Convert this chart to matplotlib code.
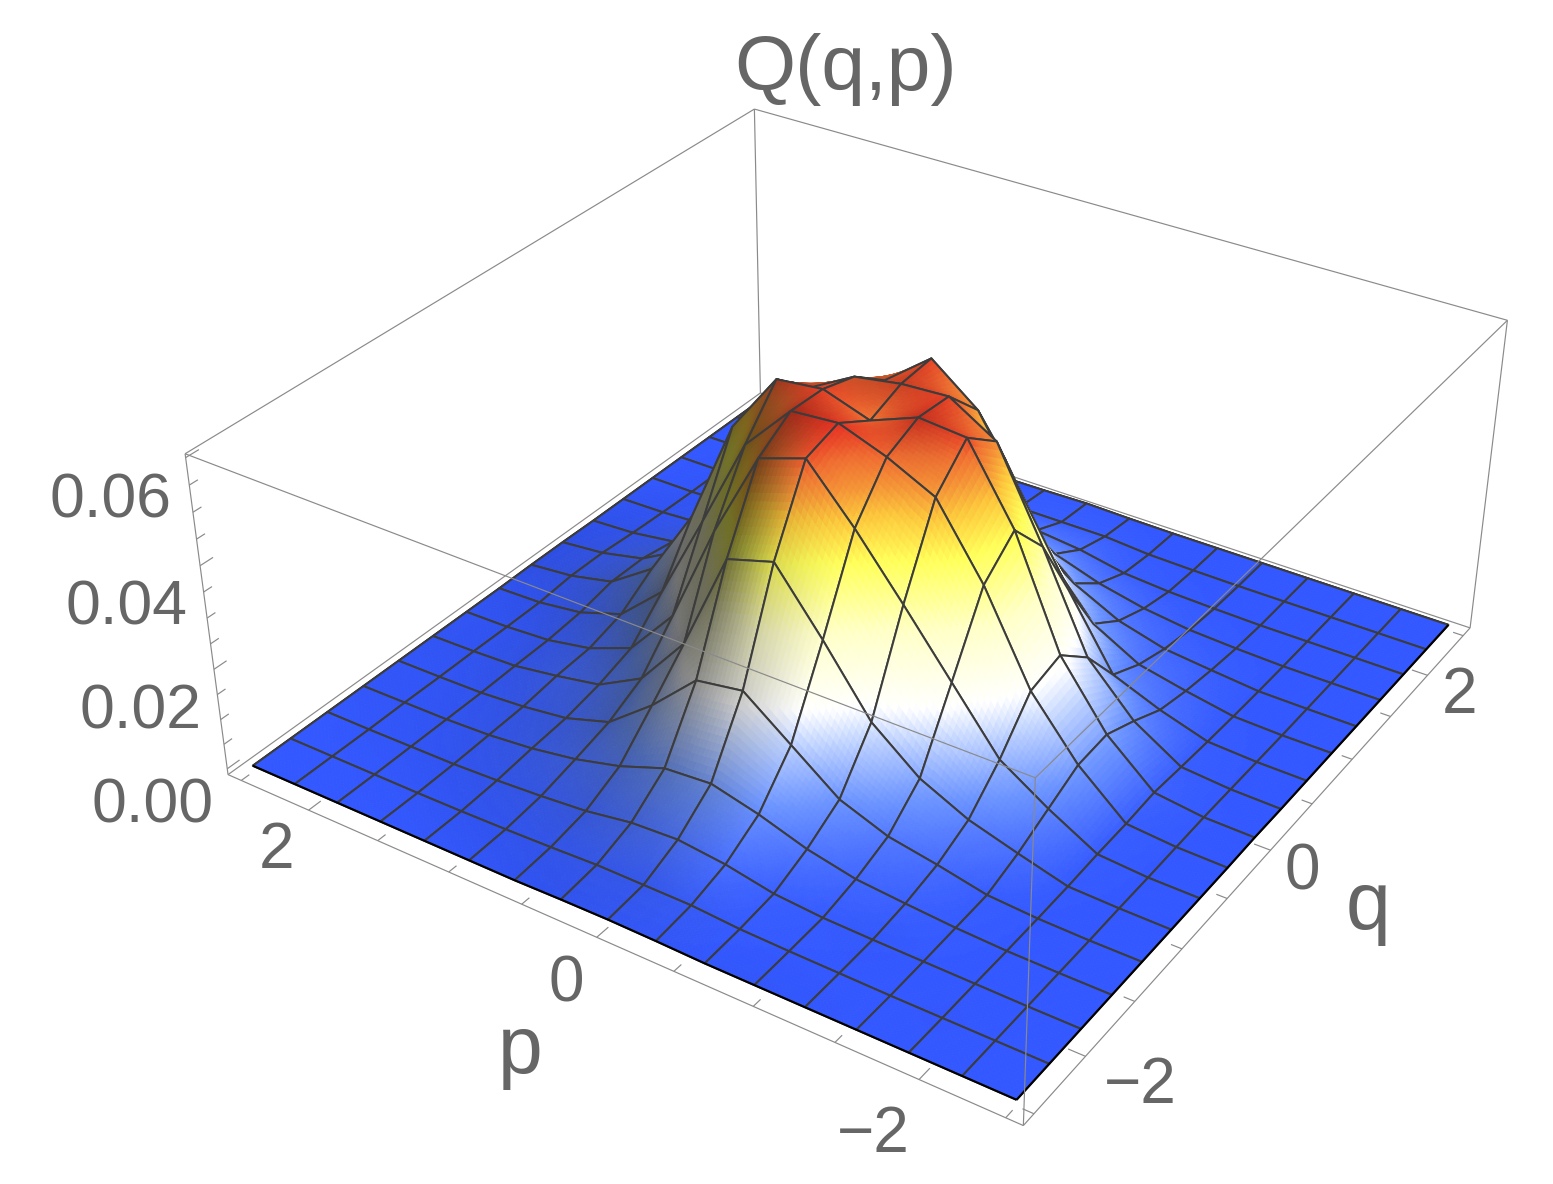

import numpy as np
import matplotlib
matplotlib.use('Agg')
import matplotlib.pyplot as plt
from matplotlib.colors import LinearSegmentedColormap
from mpl_toolkits.mplot3d.art3d import Poly3DCollection, Line3DCollection

W, H = 1553, 1184
plt.rcParams['font.family'] = ['Liberation Sans', 'DejaVu Sans']

# Husimi function on the phase-space grid, in units of 1e-3 (rows: q, columns: p)
q_nodes = [-2.5, -2.1875, -1.875, -1.5625, -1.25, -0.9375, -0.625, -0.3125, 0.0,
           0.3125, 0.625, 0.9375, 1.25, 1.5625, 1.875, 2.1875, 2.5]
p_nodes = [-2.5, -2.1875, -1.875, -1.5625, -1.25, -0.9375, -0.625, -0.3125, 0.0,
           0.3125, 0.625, 0.9375, 1.25, 1.5625, 1.875, 2.1875, 2.5]
Q_values = [
 [0, 0, 0, 0, 0, 0, 0, .2, .3, .2, 0, 0, 0, 0, 0, 0, 0],
 [0, 0, 0, 0, .1, .2, .4, 1.0, 1.0, 1.0, .6, .3, .1, 0, 0, 0, 0],
 [0, 0, .1, .2, .3, .5, 1.2, 3.0, 4.0, 3.5, 2.0, 1.2, .6, .2, .1, 0, 0],
 [0, 0, .1, .5, 1.2, 2.0, 4.0, 7.0, 9.3, 8.6, 5.3, 3.0, 1.5, .6, .2, .1, 0],
 [0, 0, .2, .8, 2.8, 4.5, 8.0, 15., 22., 20.5, 12., 5.0, 2.2, 1.0, .3, .1, 0],
 [0, .1, .4, 3.0, 5.8, 10.2, 17.6, 30., 41.5, 38.8, 19., 8.5, 3.7, 2.0, .6, .2, 0],
 [0, .1, .8, 6.0, 12., 23.5, 35., 46.1, 56., 53., 36., 16., 6.0, 2.5, .8, .2, 0],
 [0, .2, 1.0, 9.0, 20., 37., 50.3, 54.7, 58., 57.3, 48., 30., 12.5, 4.5, 1.5, .3, 0],
 [.1, .3, 1.5, 9.5, 21.7, 42.5, 56.7, 57.5, 54., 57., 56., 44., 23., 9.0, 3.0, 1.0, .1],
 [0, .2, 1.0, 6.7, 16., 34.5, 51.5, 57., 56.5, 55., 50., 37., 18.5, 8.0, 3.0, 1.0, .1],
 [0, .1, .6, 3.5, 7.2, 21., 36., 50., 57., 50., 41., 26., 12., 5.0, 1.8, .5, 0],
 [0, 0, .3, 2.0, 4.0, 9.0, 19.5, 36., 42., 38., 23., 12., 5.0, 2.0, .8, .2, 0],
 [0, 0, .1, 1.0, 2.0, 4.5, 9.0, 17., 22., 20., 12., 5.5, 2.5, 1.0, .3, 0, 0],
 [0, 0, 0, .3, .8, 2.0, 4.0, 7.0, 9.5, 8.5, 5.0, 2.5, 1.2, .4, .1, 0, 0],
 [0, 0, 0, 0, .2, .5, 1.2, 3.0, 4.0, 3.5, 2.0, 1.0, .4, .1, 0, 0, 0],
 [0, 0, 0, 0, 0, .1, .3, 1.0, 1.0, 1.0, .5, .2, .1, 0, 0, 0, 0],
 [0, 0, 0, 0, 0, 0, 0, .1, .3, .1, 0, 0, 0, 0, 0, 0, 0],
]
z_ticks = [0.0, 0.005, 0.01, 0.015, 0.02, 0.025, 0.03, 0.035, 0.04, 0.045, 0.05, 0.055, 0.06]
z_major = [0.0, 0.02, 0.04, 0.06]
pq_ticks = [-2.5, -2.0, -1.5, -1.0, -0.5, 0.0, 0.5, 1.0, 1.5, 2.0, 2.5]
pq_major = [-2.0, 0.0, 2.0]

q = np.array(q_nodes)
p = np.array(p_nodes)
Z = np.array(Q_values) * 1e-3
q_lim = p_lim = (-2.6, 2.6)
z_lim = (-0.0012, 0.0607)

fig = plt.figure(figsize=(W / 100, H / 100), dpi=100, facecolor='white')
ax = fig.add_axes([356.65 / W, 123.9 / H, 1000 / W, 1000 / H],
                  projection='3d', computed_zorder=False)
ax.set_xlim(*q_lim)
ax.set_ylim(*p_lim)
ax.set_zlim(*z_lim)
ax.view_init(elev=32.2704, azim=-146.6352)
ax.set_proj_type('persp', focal_length=0.5873)
ax.set_box_aspect((1, 1.00052, 0.40198), zoom=1.31815)
ax.set_axis_off()

# Height colouring: blue floor, white flank, yellow shoulder, red summit
height_cmap = LinearSegmentedColormap.from_list('q_height', [
    (0.0, '#3358FF'), (0.133, '#6E96FF'), (0.25, '#BED2FF'), (0.333, '#FFFFFF'),
    (0.52, '#FFFFC8'), (0.69, '#FFFF5A'), (0.79, '#FDC83C'), (0.85, '#F59637'),
    (0.91, '#F06E32'), (0.967, '#E63223'), (1.0, '#E02820')])

# Slopes turned towards the viewer's left lie in shadow
dz_dq, dz_dp = np.gradient(Z, q, p)
shadow = np.clip((0.35 * dz_dq - dz_dp) / 0.05, 0, 1) ** 0.6
shade = 1 - 0.58 * shadow

SUB = 12
t = np.arange(SUB + 1) / SUB
tc = (np.arange(SUB) + 0.5) / SUB
order = 10


def bilinear(f, i, j, a, b):
    return (f[i, j] * (1 - a) * (1 - b) + f[i + 1, j] * a * (1 - b)
            + f[i, j + 1] * (1 - a) * b + f[i + 1, j + 1] * a * b)


def add_line(segments, **kw):
    coll = Line3DCollection(segments, **kw)
    ax.add_collection3d(coll, autolim=False)
    coll.set_clip_on(False)
    return coll


def box_edge(a, b, zo):
    add_line([[a, b]], colors='#8a8a8a', linewidths=0.85, zorder=zo)


q0, q1 = q_lim
p0, p1 = p_lim
z0, z1 = z_lim
# Rear box edges sit behind the surface
box_edge((q0, p1, z0), (q1, p1, z0), 1)
box_edge((q1, p0, z0), (q1, p1, z0), 1)
box_edge((q1, p1, z0), (q1, p1, z1), 1)
box_edge((q0, p1, z1), (q1, p1, z1), 1)
box_edge((q1, p0, z1), (q1, p1, z1), 1)

# Far boundary of the surface
add_line([[(q[16], p[k], Z[16, k]) for k in range(17)],
          [(q[k], p[16], Z[k, 16]) for k in range(17)]],
         colors='black', linewidths=1.5, zorder=2)

# Height-field painter's order: far cells first, each cell filled and then outlined
for i in range(15, -1, -1):
    for j in range(15, -1, -1):
        polys, colours = [], []
        for ia in range(SUB):
            for ib in range(SUB):
                verts = []
                for a, b in ((t[ia], t[ib]), (t[ia + 1], t[ib]),
                             (t[ia + 1], t[ib + 1]), (t[ia], t[ib + 1])):
                    verts.append((q[i] + a * (q[i + 1] - q[i]),
                                  p[j] + b * (p[j + 1] - p[j]),
                                  bilinear(Z, i, j, a, b)))
                polys.append(verts)
                h = bilinear(Z, i, j, tc[ia], tc[ib])
                s = bilinear(shade, i, j, tc[ia], tc[ib])
                colours.append(np.clip(np.array(height_cmap(h / 0.06))[:3] * s, 0, 1))
        cell = Poly3DCollection(polys, facecolors=colours, edgecolors=colours,
                                linewidths=0.6, zorder=order)
        ax.add_collection3d(cell, autolim=False)
        cell.set_clip_on(False)
        order += 1
        corner = [(q[i + a], p[j + b], Z[i + a, j + b])
                  for a, b in ((0, 0), (1, 0), (1, 1), (0, 1), (0, 0))]
        add_line([corner], colors='#3c3c3c', linewidths=1.45, zorder=order)
        order += 1

# Near boundary of the surface
add_line([[(q[0], p[k], Z[0, k]) for k in range(17)],
          [(q[k], p[0], Z[k, 0]) for k in range(17)]],
         colors='black', linewidths=1.5, zorder=order)
order += 1

# Front box edges are drawn over the surface
box_edge((q0, p1, z0), (q0, p0, z0), order)
box_edge((q0, p0, z0), (q1, p0, z0), order)
box_edge((q0, p1, z0), (q0, p1, z1), order)
box_edge((q1, p0, z0), (q1, p0, z1), order)
box_edge((q0, p0, z0), (q0, p0, z1), order)
box_edge((q0, p1, z1), (q0, p0, z1), order)
box_edge((q0, p0, z1), (q1, p0, z1), order)

# Tick marks point into the box
for v in pq_ticks:
    ln = 0.1 if v in pq_major else 0.065
    box_edge((q0, v, z0), (q0 + ln, v, z0), order)
    box_edge((v, p0, z0), (v, p0 + ln, z0), order)
for v in z_ticks:
    ln = 0.1 if v in z_major else 0.065
    box_edge((q0, p1, v), (q0 + ln, p1, v), order)

GREY = '#666666'


def label(x, y, s, size):
    fig.text(x / W, 1 - y / H, s, ha='center', va='center', fontsize=size, color=GREY)


label(846, 70, 'Q(q,p)', 56.5)
for x, y, s in ((111, 501, '0.06'), (126, 608, '0.04'), (140, 712, '0.02'), (153, 806, '0.00')):
    label(x, y, s, 45)
for x, y, s in ((277, 851, '2'), (566, 985, '0'), (873, 1135, '\u22122'),
                (1460, 696, '2'), (1302, 872, '0'), (1140, 1086, '\u22122')):
    label(x, y, s, 46)
label(520, 1052, 'p', 58)
label(1368, 908, 'q', 58)

fig.savefig('out.png', dpi=100)
